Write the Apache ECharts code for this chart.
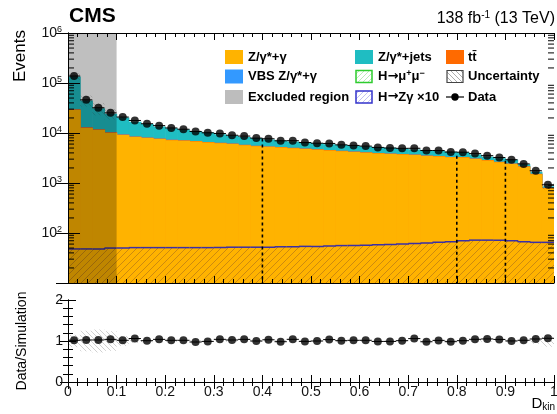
<!DOCTYPE html>
<html>
<head>
<meta charset="utf-8">
<script src="https://cdn.jsdelivr.net/npm/echarts@6/dist/echarts.min.js"></script>
<style>
html, body { margin: 0; padding: 0; background: #fff; }
#chart { width: 557px; height: 414px; }
</style>
</head>
<body>
<div id="chart"></div>
<script>
// D_kin histogram: 40 bins of width 0.025 from 0 to 1
const binWidth = 0.025;

// Stacked backgrounds (events per bin)
const zgamma = [28800,12600,11500,10000,9100,8300,7900,7600,7200,7000,6760,6460,6250,6030,5700,5450,5280,5130,4970,4790,4630,4470,4330,4170,4040,3890,3800,3720,3630,3470,3390,3260,3240,3020,2820,2590,2400,2120,1490,783];
const ttbar = [900,500,380,300,260,220,200,180,170,160,150,140,130,125,120,115,110,105,100,95,92,90,87,84,82,80,78,76,74,72,70,68,66,64,62,60,56,50,40,25];
const vbs = [60,40,35,30,28,26,25,24,23,22,21,20,20,19,19,18,18,17,17,16,16,16,15,15,15,14,14,14,13,13,13,12,12,12,11,11,10,9,8,5];
const zjets = [105900,31760,19290,13970,11110,8250,7080,5700,5010,4520,4070,3580,3000,2630,2510,2320,2040,1850,1660,1600,1510,1400,1320,1280,1240,1220,1170,1090,960,1000,930,890,780,620,460,450,450,190,140,50];

// Signal H -> Z gamma scaled by 10
const hzgX10 = [48,48,48,50,50,51,51,51,51,51,51,51,51,52,52,52,52,53,53,54,54,55,56,56,57,58,59,60,62,63,65,67,70,72,72,72,70,67,65,65];

// Observed events
const data = [138000,46020,31980,25270,20850,17810,15320,14040,12610,11900,10730,10100,9780,9020,8680,7900,7670,6980,7020,6440,6250,6180,5800,5640,5470,5150,5010,4940,4950,4470,4470,4160,4130,3870,3520,3230,2920,2410,1760,920];

// Relative uncertainty of the simulation
const uncertainty = [0.15,0.25,0.28,0.24,0.12,0.05,0.03,0.03,0.03,0.02,0.02,0.02,0.02,0.02,0.02,0.02,0.02,0.02,0.02,0.02,0.02,0.02,0.02,0.02,0.02,0.02,0.02,0.02,0.02,0.02,0.02,0.02,0.02,0.02,0.02,0.02,0.02,0.03,0.07,0.14];

// Excluded D_kin range and category boundaries
const excludedRange = [0, 0.1];
const cutPositions = [0.4, 0.8, 0.9];
const cutHeights = [7800, 3500, 2800];

const xTickLabels = ['0','0.1','0.2','0.3','0.4','0.5','0.6','0.7','0.8','0.9','1'];

const FONT = '"Liberation Sans", Arial, Helvetica, sans-serif';
const Y_MIN = 10, Y_MAX = 1e6;
const C_ZG = '#FFB300', C_ZJ = '#1FBDC2', C_TT = '#FF6A00', C_VBS = '#3399FF';
const C_SIG = '#3A2FA6';

function hatch(color, dir, size, lw, bg) {
  const c = document.createElement('canvas');
  c.width = size; c.height = size;
  const g = c.getContext('2d');
  if (bg) { g.fillStyle = bg; g.fillRect(0, 0, size, size); }
  g.strokeStyle = color; g.lineWidth = lw;
  g.beginPath();
  if (dir === '/') {
    g.moveTo(-1, size + 1); g.lineTo(size + 1, -1);
    g.moveTo(-1, 1); g.lineTo(1, -1);
    g.moveTo(size - 1, size + 1); g.lineTo(size + 1, size - 1);
  } else {
    g.moveTo(-1, -1); g.lineTo(size + 1, size + 1);
    g.moveTo(size - 1, -1); g.lineTo(size + 1, 1);
    g.moveTo(-1, size - 1); g.lineTo(1, size + 1);
  }
  g.stroke();
  return { type: 'pattern', image: c, repeat: 'repeat' };
}

const sigHatch = hatch('rgba(120,70,40,0.38)', '/', 7, 1);
const uncHatchTop = hatch('rgba(60,60,60,0.2)', '\\', 5, 1);
const uncHatchRatio = hatch('rgba(170,170,170,0.55)', '\\', 5, 1);
const legSigHatch = hatch('rgba(80,80,220,0.35)', '/', 5, 1, '#fff');
const legHmmHatch = hatch('rgba(60,200,60,0.35)', '/', 5, 1, '#fff');
const legUncHatch = hatch('rgba(120,120,120,0.6)', '\\', 5, 1, '#fff');

const n = data.length;
const lo = [], hi = [], mid = [];
for (let i = 0; i < n; i++) {
  lo.push(i * binWidth); hi.push((i + 1) * binWidth); mid.push((i + 0.5) * binWidth);
}
const cum1 = zgamma.slice();
const cum2 = cum1.map((v, i) => v + ttbar[i]);
const cum3 = cum2.map((v, i) => v + vbs[i]);
const total = cum3.map((v, i) => v + zjets[i]);
const ratio = data.map((v, i) => v / total[i]);

function fillFromBottom(color) {
  return function (params, api) {
    const a = api.coord([api.value(0), api.value(3)]);
    const b = api.coord([api.value(1), api.value(2)]);
    return {
      type: 'rect',
      shape: { x: a[0], y: a[1], width: b[0] - a[0] + 0.6, height: b[1] - a[1] },
      style: { fill: color }
    };
  };
}
function bandRender(fill) {
  return function (params, api) {
    const a = api.coord([api.value(0), api.value(3)]);
    const b = api.coord([api.value(1), api.value(2)]);
    return {
      type: 'rect',
      shape: { x: a[0], y: a[1], width: b[0] - a[0], height: b[1] - a[1] },
      style: { fill: fill }
    };
  };
}
function stackSeries(name, cum, color, z) {
  return {
    name: name, type: 'custom', xAxisIndex: 0, yAxisIndex: 0, z: z, clip: true,
    renderItem: fillFromBottom(color),
    encode: { x: [0, 1], y: [2, 3] },
    data: cum.map((v, i) => [lo[i], hi[i], Y_MIN, v]),
    silent: true
  };
}
function xErrRender(params, api) {
  const a = api.coord([api.value(0), api.value(2)]);
  const b = api.coord([api.value(1), api.value(2)]);
  return {
    type: 'line',
    shape: { x1: a[0], y1: a[1], x2: b[0], y2: b[1] },
    style: { stroke: '#000', lineWidth: 1 }
  };
}

// log-scale minor ticks at 2..9 x 10^k along the left and right frame
const logMinor = [];
for (let e = 1; e < 6; e++) for (let k = 2; k <= 9; k++) logMinor.push([0, k * Math.pow(10, e)]);

const axisLineStyle = { color: '#000', width: 1 };

const boldRich = {
  b: { fontSize: 13, fontWeight: 'bold', lineHeight: 15, fontFamily: FONT, fill: '#000' },
  a: { fontSize: 13, fontWeight: 'bold', lineHeight: 15, fontFamily: '"DejaVu Sans", ' + FONT, fill: '#000' },
  s: { fontSize: 9, fontWeight: 'bold', lineHeight: 9, verticalAlign: 'top', fontFamily: FONT, fill: '#000' }
};

const option = {
  animation: false,
  backgroundColor: '#fff',
  textStyle: { fontFamily: FONT },
  grid: [
    { left: 68, top: 33, width: 486, height: 250, containLabel: false, outerBoundsMode: 'none' },
    { left: 68, top: 300, width: 486, height: 82, containLabel: false, outerBoundsMode: 'none' }
  ],
  xAxis: [
    { gridIndex: 0, type: 'value', min: 0, max: 1, interval: 0.1, position: 'bottom', z: 20,
      axisLine: { lineStyle: axisLineStyle }, axisLabel: { show: false },
      axisTick: { inside: true, length: 7, lineStyle: axisLineStyle },
      minorTick: { show: true, splitNumber: 5, length: 4, lineStyle: axisLineStyle },
      splitLine: { show: false } },
    { gridIndex: 0, type: 'value', min: 0, max: 1, interval: 0.1, position: 'top', z: 20,
      axisLine: { lineStyle: axisLineStyle }, axisLabel: { show: false },
      axisTick: { inside: true, length: 7, lineStyle: axisLineStyle },
      minorTick: { show: true, splitNumber: 5, length: 4, lineStyle: axisLineStyle },
      splitLine: { show: false } },
    { gridIndex: 1, type: 'value', min: 0, max: 1, interval: 0.1, position: 'bottom', z: 20,
      axisLine: { lineStyle: axisLineStyle },
      axisLabel: { show: true, margin: 3, fontSize: 14, color: '#111', fontFamily: FONT,
        formatter: v => xTickLabels[Math.round(v * 10)] },
      axisTick: { inside: true, length: 7, lineStyle: axisLineStyle },
      minorTick: { show: true, splitNumber: 5, length: 4, lineStyle: axisLineStyle },
      splitLine: { show: false } },
    { gridIndex: 1, type: 'value', min: 0, max: 1, interval: 0.1, position: 'top', z: 20,
      axisLine: { lineStyle: axisLineStyle }, axisLabel: { show: false },
      axisTick: { inside: true, length: 7, lineStyle: axisLineStyle },
      minorTick: { show: true, splitNumber: 5, length: 4, lineStyle: axisLineStyle },
      splitLine: { show: false } }
  ],
  yAxis: [
    { gridIndex: 0, type: 'log', logBase: 10, min: Y_MIN, max: Y_MAX, position: 'left', z: 20,
      axisLine: { lineStyle: axisLineStyle },
      axisTick: { inside: true, length: 12, lineStyle: axisLineStyle },
      splitLine: { show: false },
      axisLabel: { margin: 6, color: '#111', fontFamily: FONT,
        formatter: v => { const e = Math.round(Math.log10(v)); return e <= 1 ? '' : '{b|10}{s|' + e + '}'; },
        rich: { b: { fontSize: 14, lineHeight: 16, fontFamily: FONT, color: '#111' },
                s: { fontSize: 9, lineHeight: 9, verticalAlign: 'top', fontFamily: FONT, color: '#111' } } } },
    { gridIndex: 0, type: 'log', logBase: 10, min: Y_MIN, max: Y_MAX, position: 'right', z: 20,
      axisLine: { lineStyle: axisLineStyle }, axisLabel: { show: false },
      axisTick: { inside: true, length: 12, lineStyle: axisLineStyle },
      splitLine: { show: false } },
    { gridIndex: 1, type: 'value', min: 0, max: 2, interval: 1, position: 'left', z: 20,
      axisLine: { lineStyle: axisLineStyle },
      axisLabel: { margin: 5, fontSize: 14, color: '#111', fontFamily: FONT },
      axisTick: { inside: true, length: 8, lineStyle: axisLineStyle },
      minorTick: { show: true, splitNumber: 5, length: 5, lineStyle: axisLineStyle },
      splitLine: { show: false } },
    { gridIndex: 1, type: 'value', min: 0, max: 2, interval: 1, position: 'right', z: 20,
      axisLine: { lineStyle: axisLineStyle }, axisLabel: { show: false },
      axisTick: { inside: true, length: 8, lineStyle: axisLineStyle },
      minorTick: { show: true, splitNumber: 5, length: 5, lineStyle: axisLineStyle },
      splitLine: { show: false } }
  ],
  series: [
    stackSeries('Z/γ*+jets', total, C_ZJ, 2),
    stackSeries('VBS Z/γ*+γ', cum3, C_VBS, 3),
    stackSeries('tt̄', cum2, C_TT, 4),
    stackSeries('Z/γ*+γ', cum1, C_ZG, 5),
    {
      name: 'H→Zγ ×10', type: 'custom', xAxisIndex: 0, yAxisIndex: 0, z: 6, clip: true, silent: true,
      encode: { x: [0, 1], y: [2, 3] },
      data: hzgX10.map((v, i) => [lo[i], hi[i], Y_MIN, v, i + 1 < n ? hzgX10[i + 1] : v]),
      renderItem: function (params, api) {
        const a = api.coord([api.value(0), api.value(3)]);
        const b = api.coord([api.value(1), api.value(2)]);
        const c = api.coord([api.value(1), api.value(4)]);
        return {
          type: 'group',
          children: [
            { type: 'rect', shape: { x: a[0], y: a[1], width: b[0] - a[0], height: b[1] - a[1] },
              style: { fill: sigHatch } },
            { type: 'polyline', shape: { points: [[a[0], a[1]], [b[0], a[1]], [b[0], c[1]]] },
              style: { stroke: C_SIG, lineWidth: 1.5, fill: null } }
          ]
        };
      }
    },
    {
      name: 'Uncertainty', type: 'custom', xAxisIndex: 0, yAxisIndex: 0, z: 7, clip: true, silent: true,
      encode: { x: [0, 1], y: [2, 3] },
      data: total.map((v, i) => [lo[i], hi[i], v * (1 - uncertainty[i]), v * (1 + uncertainty[i])]),
      renderItem: bandRender(uncHatchTop)
    },
    {
      name: 'Excluded region', type: 'custom', xAxisIndex: 0, yAxisIndex: 0, z: 8, clip: true, silent: true,
      encode: { x: [0, 1], y: [2, 3] },
      data: [[excludedRange[0], excludedRange[1], Y_MIN, Y_MAX]],
      renderItem: bandRender('rgba(0,0,0,0.25)')
    },
    {
      name: 'cuts', type: 'custom', xAxisIndex: 0, yAxisIndex: 0, z: 9, clip: true, silent: true,
      encode: { x: 0, y: 1 },
      data: cutPositions.map((x, i) => [x, cutHeights[i]]),
      renderItem: function (params, api) {
        const a = api.coord([api.value(0), api.value(1)]);
        const b = api.coord([api.value(0), Y_MIN]);
        return { type: 'line', shape: { x1: a[0], y1: a[1], x2: b[0], y2: b[1] },
          style: { stroke: '#000', lineWidth: 1.6, lineDash: [3, 3] } };
      }
    },
    {
      name: 'logMinorTicks', type: 'custom', xAxisIndex: 0, yAxisIndex: 0, z: 21, silent: true,
      encode: { x: 0, y: 1 },
      data: logMinor,
      renderItem: function (params, api) {
        const cs = params.coordSys;
        const y = api.coord([0, api.value(1)])[1];
        return { type: 'group', children: [
          { type: 'line', shape: { x1: cs.x, y1: y, x2: cs.x + 6, y2: y }, style: { stroke: '#000', lineWidth: 1 } },
          { type: 'line', shape: { x1: cs.x + cs.width - 6, y1: y, x2: cs.x + cs.width, y2: y }, style: { stroke: '#000', lineWidth: 1 } }
        ] };
      }
    },
    {
      name: 'Data xerr', type: 'custom', xAxisIndex: 0, yAxisIndex: 0, z: 10, clip: true, silent: true,
      encode: { x: [0, 1], y: 2 },
      data: data.map((v, i) => [lo[i], hi[i], v]),
      renderItem: xErrRender
    },
    {
      name: 'Data', type: 'scatter', xAxisIndex: 0, yAxisIndex: 0, z: 11, silent: true,
      symbol: 'circle', symbolSize: 8, itemStyle: { color: '#000' },
      data: data.map((v, i) => [mid[i], v])
    },
    // ratio panel
    {
      name: 'Ratio uncertainty', type: 'custom', xAxisIndex: 2, yAxisIndex: 2, z: 5, clip: true, silent: true,
      encode: { x: [0, 1], y: [2, 3] },
      data: uncertainty.map((u, i) => [lo[i], hi[i], 1 - u, 1 + u]),
      renderItem: bandRender(uncHatchRatio)
    },
    {
      name: 'Ratio xerr', type: 'custom', xAxisIndex: 2, yAxisIndex: 2, z: 10, clip: true, silent: true,
      encode: { x: [0, 1], y: 2 },
      data: ratio.map((v, i) => [lo[i], hi[i], v]),
      renderItem: xErrRender
    },
    {
      name: 'Ratio', type: 'scatter', xAxisIndex: 2, yAxisIndex: 2, z: 11, silent: true,
      symbol: 'circle', symbolSize: 8, itemStyle: { color: '#000' },
      data: ratio.map((v, i) => [mid[i], v])
    }
  ],
  graphic: [
    { type: 'text', left: 69, top: 6, z: 50,
      style: { text: 'CMS', font: 'bold 21px ' + FONT, fill: '#000' } },
    { type: 'text', x: 555, y: 19, z: 50,
      style: { text: '{b|138 fb}{s|-1}{b| (13 TeV)}', align: 'right', verticalAlign: 'middle',
        rich: { b: { fontSize: 16, lineHeight: 18, fontFamily: FONT, fill: '#000' },
                s: { fontSize: 10, lineHeight: 10, verticalAlign: 'top', fontFamily: FONT, fill: '#000' } } } },
    { type: 'text', x: 20, y: 30, rotation: Math.PI / 2, z: 50,
      style: { text: 'Events', font: '17px ' + FONT, fill: '#000', align: 'right', verticalAlign: 'middle' } },
    { type: 'text', x: 22, y: 341, rotation: Math.PI / 2, z: 50,
      style: { text: 'Data/Simulation', font: '14px ' + FONT, fill: '#000', align: 'center', verticalAlign: 'middle' } },
    { type: 'text', x: 555, y: 404, z: 50,
      style: { text: '{b|D}{s|kin}', align: 'right', verticalAlign: 'middle',
        rich: { b: { fontSize: 15, lineHeight: 17, fontFamily: FONT, fill: '#000' },
                s: { fontSize: 10, lineHeight: 10, verticalAlign: 'bottom', fontFamily: FONT, fill: '#000' } } } },

    // legend, column 1
    { type: 'rect', shape: { x: 225, y: 50, width: 18, height: 14 }, style: { fill: C_ZG }, z: 50 },
    { type: 'rect', shape: { x: 225, y: 69.5, width: 18, height: 14 }, style: { fill: C_VBS }, z: 50 },
    { type: 'rect', shape: { x: 225, y: 90, width: 18, height: 14 }, style: { fill: '#BDBDBD' }, z: 50 },
    { type: 'text', x: 248, y: 57, z: 50, style: { text: 'Z/γ*+γ', font: 'bold 13px ' + FONT, fill: '#000', verticalAlign: 'middle' } },
    { type: 'text', x: 248, y: 76.5, z: 50, style: { text: 'VBS Z/γ*+γ', font: 'bold 13px ' + FONT, fill: '#000', verticalAlign: 'middle' } },
    { type: 'text', x: 248, y: 97, z: 50, style: { text: 'Excluded region', font: 'bold 13px ' + FONT, fill: '#000', verticalAlign: 'middle' } },

    // legend, column 2
    { type: 'rect', shape: { x: 355, y: 50, width: 18, height: 14 }, style: { fill: C_ZJ }, z: 50 },
    { type: 'rect', shape: { x: 356, y: 70.5, width: 16, height: 12 }, style: { fill: legHmmHatch, stroke: '#2ECC2E', lineWidth: 1.5 }, z: 50 },
    { type: 'rect', shape: { x: 356, y: 91, width: 16, height: 12 }, style: { fill: legSigHatch, stroke: '#3333CC', lineWidth: 1.5 }, z: 50 },
    { type: 'text', x: 378, y: 57, z: 50, style: { text: 'Z/γ*+jets', font: 'bold 13px ' + FONT, fill: '#000', verticalAlign: 'middle' } },
    { type: 'text', x: 378, y: 76.5, z: 50,
      style: { text: '{b|H}{a|→}{b|μ}{s|+}{b|μ}{s|−}', verticalAlign: 'middle', rich: boldRich } },
    { type: 'text', x: 378, y: 97, z: 50,
      style: { text: '{b|H}{a|→}{b|Zγ ×10}', verticalAlign: 'middle', rich: boldRich } },

    // legend, column 3
    { type: 'rect', shape: { x: 446, y: 50, width: 18, height: 14 }, style: { fill: C_TT }, z: 50 },
    { type: 'rect', shape: { x: 447, y: 70.5, width: 16, height: 12 }, style: { fill: legUncHatch, stroke: '#444', lineWidth: 1.2 }, z: 50 },
    { type: 'line', shape: { x1: 446, y1: 97, x2: 464, y2: 97 }, style: { stroke: '#000', lineWidth: 1.2 }, z: 50 },
    { type: 'circle', shape: { cx: 455, cy: 97, r: 3.7 }, style: { fill: '#000' }, z: 51 },
    { type: 'text', x: 468, y: 57, z: 50, style: { text: 'tt\u0304', font: 'bold 13px ' + FONT, fill: '#000', verticalAlign: 'middle' } },
    { type: 'text', x: 468, y: 76.5, z: 50, style: { text: 'Uncertainty', font: 'bold 13px ' + FONT, fill: '#000', verticalAlign: 'middle' } },
    { type: 'text', x: 468, y: 97, z: 50, style: { text: 'Data', font: 'bold 13px ' + FONT, fill: '#000', verticalAlign: 'middle' } }
  ]
};

const chart = echarts.init(document.getElementById('chart'), null, { renderer: 'canvas' });
chart.setOption(option);
</script>
</body>
</html>
